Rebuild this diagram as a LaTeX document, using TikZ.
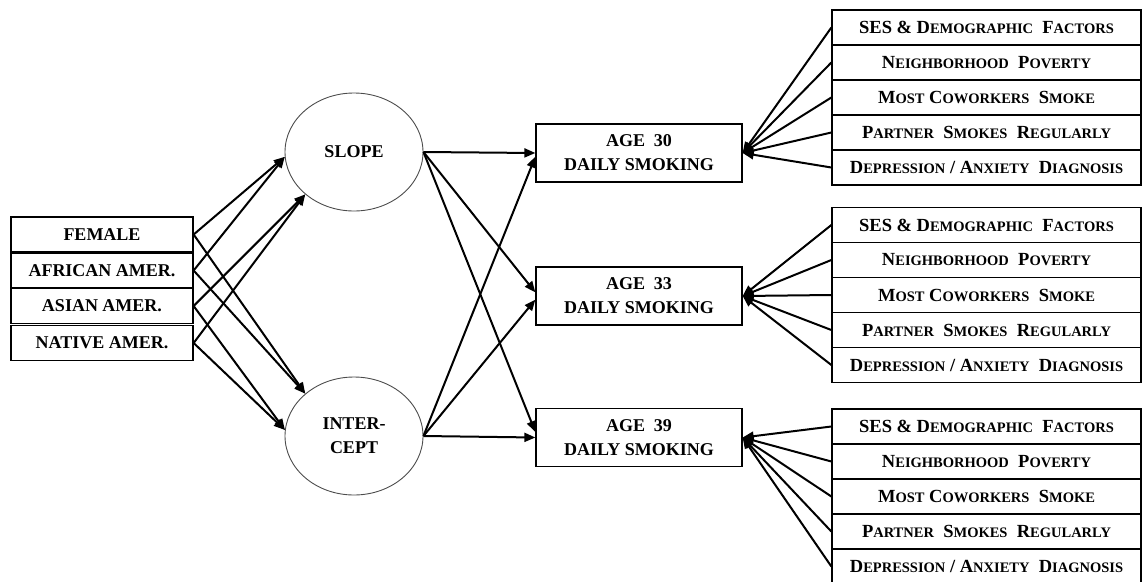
\documentclass[tikz,border=0pt]{standalone}
\usepackage{fontspec}
\setmainfont{Liberation Serif}
\usetikzlibrary{arrows.meta,shapes.geometric}
\newcommand\SCw[2]{#1{\fontsize{14.5}{14.5}\selectfont #2}}
\begin{document}
\begin{tikzpicture}[x=1pt,y=-1pt,
  lbox/.style={draw, line width=1.3pt, minimum width=182pt, minimum height=35pt, inner sep=0pt,
    font=\fontsize{18}{18}\selectfont\bfseries},
  agebox/.style={draw, line width=1.3pt, minimum width=206pt, minimum height=58pt, inner sep=0pt,
    align=center, font=\fontsize{18}{24}\selectfont\bfseries},
  fbox/.style={draw, line width=1.3pt, minimum width=309pt, minimum height=35pt, inner sep=0pt,
    font=\fontsize{18.5}{18.5}\selectfont\bfseries},
  latent/.style={draw=black!70, line width=0.9pt, ellipse, minimum width=138pt, minimum height=118pt,
    inner sep=0pt, align=center, font=\fontsize{18}{24}\selectfont\bfseries},
  arr/.style={line width=2pt, -{Triangle[length=11pt,width=9pt]}}
]
\useasboundingbox (0,0) rectangle (1142,581);

% left observed covariates
\node[lbox] (fem) at (102,234.5) {FEMALE};
\node[lbox] (afr) at (102,270.5) {AFRICAN AMER.};
\node[lbox] (asi) at (102,306) {ASIAN AMER.};
\node[lbox] (nat) at (102,343) {NATIVE AMER.};

% latent factors
\node[latent] (slope) at (354,152) {SLOPE};
\node[latent] (int) at (354,436) {INTER-\\CEPT};

% outcomes
\node[agebox] (a30) at (639,153) {AGE\ \ 30\\DAILY SMOKING};
\node[agebox] (a33) at (639,296) {AGE\ \ 33\\DAILY SMOKING};
\node[agebox] (a39) at (639,437.5) {AGE\ \ 39\\DAILY SMOKING};

% covariate arrows
\draw[arr] (fem.east) -- (slope.184);
\draw[arr] (afr.east) -- (slope.184);
\draw[arr] (asi.east) -- (slope.221);
\draw[arr] (nat.east) -- (slope.221);
\draw[arr] (fem.east) -- (int.139);
\draw[arr] (afr.east) -- (int.139);
\draw[arr] (asi.east) -- (int.175);
\draw[arr] (nat.east) -- (int.175);

% growth arrows
\draw[arr] (slope.east) -- (a30.west);
\draw[arr] (slope.east) -- (a33.178);
\draw[arr] (slope.east) -- (a39.177.5);
\draw[arr] (int.east) -- (a30.182);
\draw[arr] (int.east) -- (a33.182);
\draw[arr] (int.east) -- (a39.west);

% time-varying covariates
\foreach \g/\top/\tgt in {1/10/a30, 2/207.5/a33, 3/409/a39} {
  \node[fbox] (g\g-1) at (986.5,\top+17.5) {SES \& \SCw{D}{EMOGRAPHIC}\ \ \SCw{F}{ACTORS}};
  \node[fbox] (g\g-2) at (986.5,\top+52.5) {\SCw{N}{EIGHBORHOOD}\ \ \SCw{P}{OVERTY}};
  \node[fbox] (g\g-3) at (986.5,\top+87.5) {\SCw{M}{OST} \SCw{C}{OWORKERS}\ \ \SCw{S}{MOKE}};
  \node[fbox] (g\g-4) at (986.5,\top+122.5) {\SCw{P}{ARTNER}\ \ \SCw{S}{MOKES}\ \ \SCw{R}{EGULARLY}};
  \node[fbox] (g\g-5) at (986.5,\top+157.5) {\SCw{D}{EPRESSION} / \SCw{A}{NXIETY}\ \ \SCw{D}{IAGNOSIS}};
  \foreach \r in {1,...,5} {
    \draw[arr] (g\g-\r.west) -- (\tgt.east);
  }
}
\end{tikzpicture}
\end{document}
